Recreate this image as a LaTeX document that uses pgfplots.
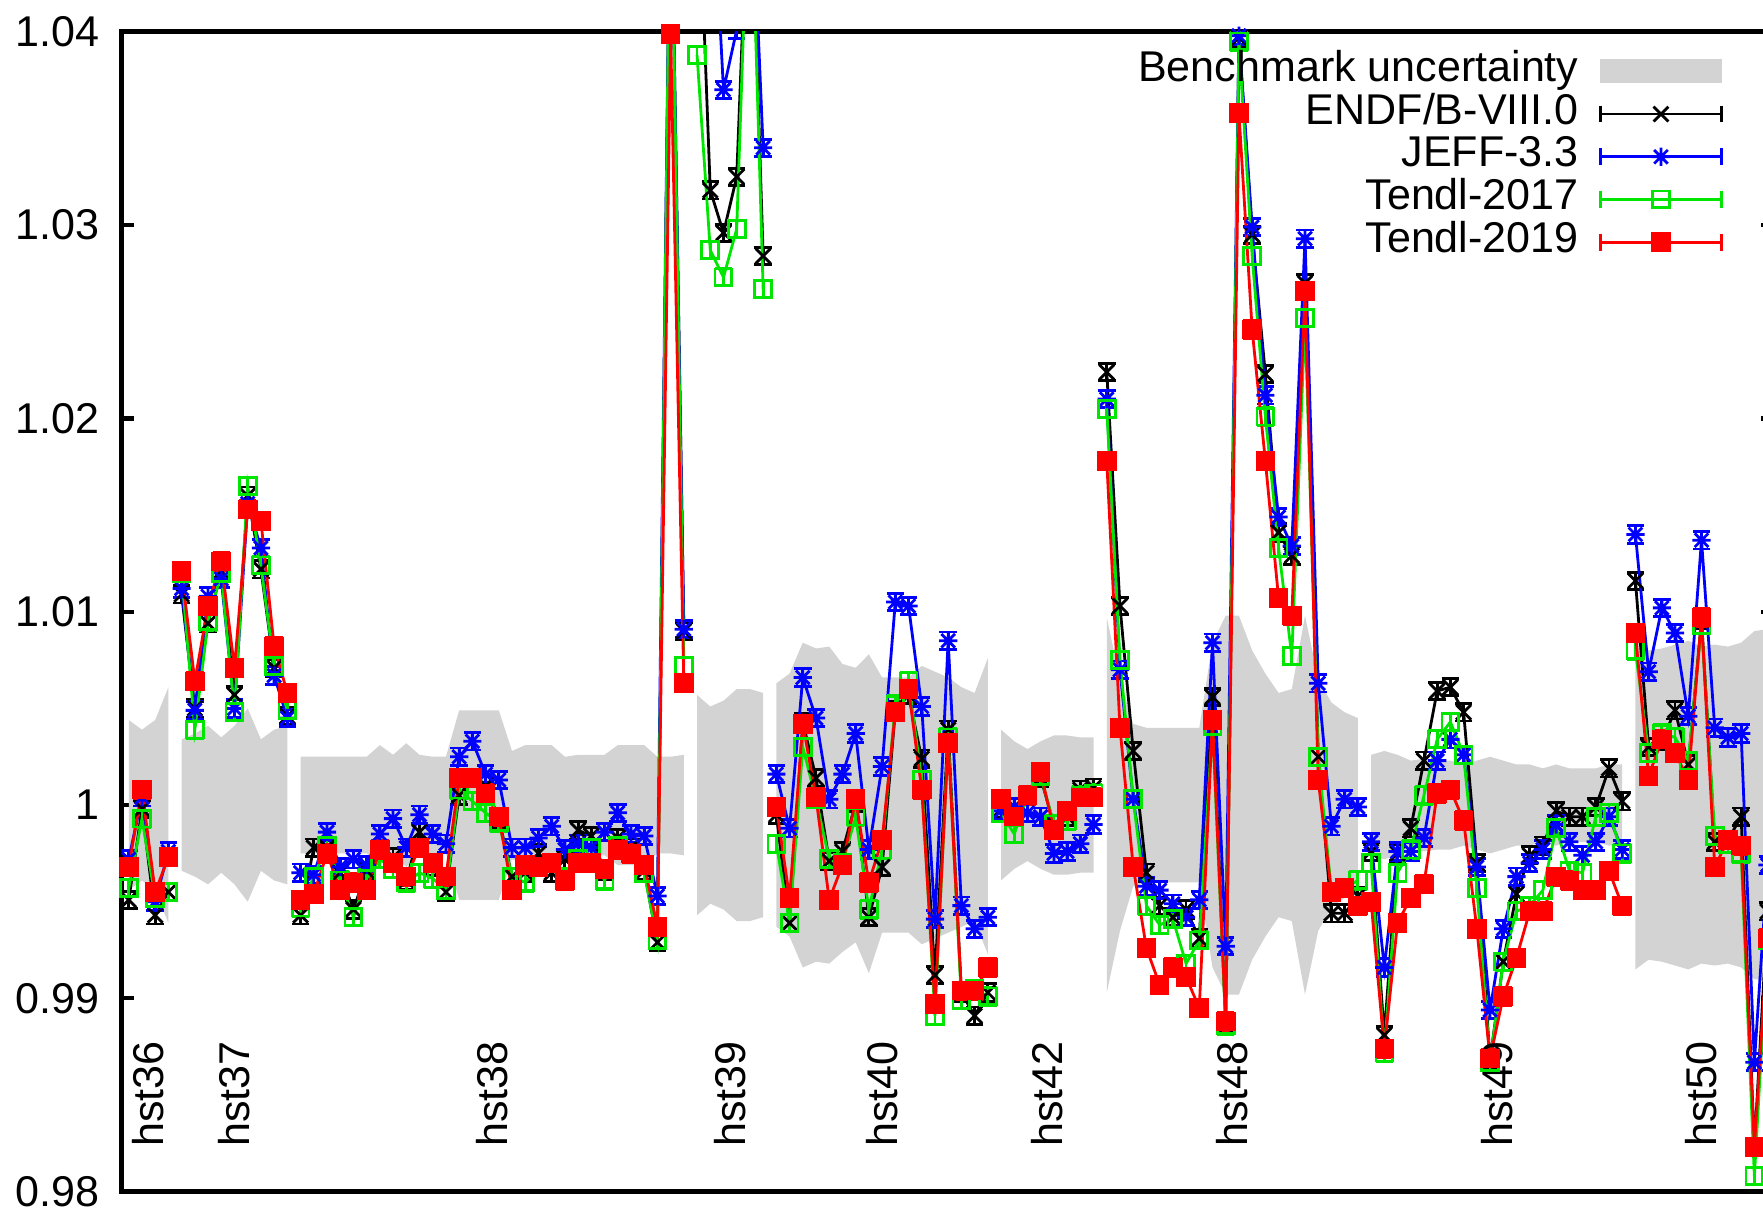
\documentclass[border=0pt]{standalone}
\usepackage{pgfplots}
\pgfplotsset{compat=1.18}
\usepackage{fontspec}
\setmainfont{Liberation Sans}
\definecolor{bandgray}{RGB}{211,211,211}
\definecolor{tgreen}{RGB}{0,230,0}
\definecolor{tblue}{RGB}{0,0,255}
\definecolor{tred}{RGB}{255,0,0}
\pgfdeclareplotmark{gpstar}{%
  \pgfpathmoveto{\pgfpoint{-\pgfplotmarksize}{0pt}}%
  \pgfpathlineto{\pgfpoint{\pgfplotmarksize}{0pt}}%
  \pgfpathmoveto{\pgfpoint{0pt}{-\pgfplotmarksize}}%
  \pgfpathlineto{\pgfpoint{0pt}{\pgfplotmarksize}}%
  \pgfpathmoveto{\pgfpoint{-0.75\pgfplotmarksize}{-0.75\pgfplotmarksize}}%
  \pgfpathlineto{\pgfpoint{0.75\pgfplotmarksize}{0.75\pgfplotmarksize}}%
  \pgfpathmoveto{\pgfpoint{-0.75\pgfplotmarksize}{0.75\pgfplotmarksize}}%
  \pgfpathlineto{\pgfpoint{0.75\pgfplotmarksize}{-0.75\pgfplotmarksize}}%
  \pgfusepathqstroke}
\pgfplotsset{
  errleg/.style={legend image code/.code={%
    \draw[mark repeat=2,mark phase=2,##1] plot coordinates {(0pt,0pt) (17.35pt,0pt) (34.7pt,0pt)};
    \draw[##1,mark=none] (0pt,-2.4pt) -- (0pt,2.4pt) (34.7pt,-2.4pt) -- (34.7pt,2.4pt);}},
  ser/.style={line width=0.8pt, mark options={solid,line width=0.8pt}, errleg,
    error bars/y dir=both, error bars/y fixed=0.00045,
    error bars/error bar style={line width=0.8pt},
    error bars/error mark=|,
    error bars/error mark options={line width=0.8pt, mark size=2.5pt}},
  bandleg/.style={legend image code/.code={\fill[bandgray] (0pt,-3.4pt) rectangle (34.7pt,3.4pt);}},
}
\newcommand{\lbl}{\fontsize{12.3}{14}\selectfont}
\begin{document}
\begin{tikzpicture}
\begin{axis}[
  set layers,
  at={(0,0)}, anchor=south west,
  scale only axis, width=472.2pt, height=331.4pt,
  xmin=-0.55, xmax=124.5, ymin=0.98, ymax=1.04,
  xtick=\empty,
  ytick={0.98,0.99,1,1.01,1.02,1.03,1.04},
  tick align=inside, major tick length=3.7pt,
  axis line style={line width=1.4pt},
  every tick/.style={black, line width=1.2pt},
  yticklabel style={font=\lbl, xshift=-2.8pt},
  /pgf/number format/assume math mode=true,
  unbounded coords=jump,
  legend style={draw=none, fill=none, at={(0.9695,1)}, anchor=north east, yshift=-5.0pt,
    font=\lbl, column sep=5.8pt, row sep=0pt, inner sep=0pt,
    nodes={inner sep=0pt, text height=9pt, text depth=3.2pt}},
  legend cell align=right, legend plot pos=right,
]
% benchmark uncertainty bands
\addplot[fill=bandgray, draw=none, bandleg] coordinates {(0,1.0044)(1,1.0039)(2,1.0044)(3,1.0061)(3,0.9939)(2,0.9956)(1,0.9961)(0,0.9956)};
\addlegendentry{Benchmark uncertainty}
\addplot[fill=bandgray, draw=none, forget plot] coordinates {(4,1.0034)(5,1.0037)(6,1.0041)(7,1.0035)(8,1.0041)(9,1.0050)(10,1.0034)(11,1.0039)(12,1.0041)(12,0.9959)(11,0.9961)(10,0.9966)(9,0.9950)(8,0.9959)(7,0.9965)(6,0.9959)(5,0.9963)(4,0.9966)};
\addplot[fill=bandgray, draw=none, forget plot] coordinates {(13,1.0025)(14,1.0025)(15,1.0025)(16,1.0025)(17,1.0025)(18,1.0025)(19,1.0031)(20,1.0026)(21,1.0032)(22,1.0026)(23,1.0025)(24,1.0025)(25,1.0049)(26,1.0049)(27,1.0049)(28,1.0049)(29,1.0028)(30,1.0031)(31,1.0031)(32,1.0031)(33,1.0025)(34,1.0026)(35,1.0026)(36,1.0026)(37,1.0031)(38,1.0031)(39,1.0031)(40,1.0025)(41,1.0025)(42,1.0026)(42,0.9974)(41,0.9975)(40,0.9975)(39,0.9969)(38,0.9969)(37,0.9969)(36,0.9974)(35,0.9974)(34,0.9974)(33,0.9975)(32,0.9969)(31,0.9969)(30,0.9969)(29,0.9972)(28,0.9951)(27,0.9951)(26,0.9951)(25,0.9951)(24,0.9975)(23,0.9975)(22,0.9974)(21,0.9968)(20,0.9974)(19,0.9969)(18,0.9975)(17,0.9975)(16,0.9975)(15,0.9975)(14,0.9975)(13,0.9975)};
\addplot[fill=bandgray, draw=none, forget plot] coordinates {(43,1.0057)(44,1.0051)(45,1.0054)(46,1.0060)(47,1.0060)(48,1.0058)(48,0.9942)(47,0.9940)(46,0.9940)(45,0.9946)(44,0.9949)(43,0.9943)};
\addplot[fill=bandgray, draw=none, forget plot] coordinates {(49,1.0063)(50,1.0068)(51,1.0084)(52,1.0081)(53,1.0082)(54,1.0073)(55,1.0071)(56,1.0078)(57,1.0066)(58,1.0066)(59,1.0066)(60,1.0072)(61,1.0069)(62,1.0066)(63,1.0061)(64,1.0058)(65,1.0076)(65,0.9923)(64,0.9940)(63,0.9937)(62,0.9934)(61,0.9931)(60,0.9928)(59,0.9934)(58,0.9934)(57,0.9934)(56,0.9913)(55,0.9929)(54,0.9924)(53,0.9918)(52,0.9919)(51,0.9916)(50,0.9932)(49,0.9937)};
\addplot[fill=bandgray, draw=none, forget plot] coordinates {(66,1.0039)(67,1.0033)(68,1.0029)(69,1.0033)(70,1.0036)(71,1.0036)(72,1.0035)(73,1.0035)(73,0.9965)(72,0.9965)(71,0.9964)(70,0.9964)(69,0.9967)(68,0.9971)(67,0.9967)(66,0.9961)};
\addplot[fill=bandgray, draw=none, forget plot] coordinates {(74,1.0097)(75,1.0065)(76,1.0042)(77,1.0040)(78,1.0040)(79,1.0040)(80,1.0040)(81,1.0040)(82,1.0084)(83,1.0098)(84,1.0098)(85,1.0080)(86,1.0068)(87,1.0058)(88,1.0060)(89,1.0098)(90,1.0065)(91,1.0053)(92,1.0048)(93,1.0045)(93,0.9955)(92,0.9952)(91,0.9947)(90,0.9935)(89,0.9902)(88,0.9940)(87,0.9942)(86,0.9932)(85,0.9920)(84,0.9902)(83,0.9902)(82,0.9916)(81,0.9960)(80,0.9960)(79,0.9960)(78,0.9960)(77,0.9960)(76,0.9958)(75,0.9935)(74,0.9903)};
\addplot[fill=bandgray, draw=none, forget plot] coordinates {(94,1.0026)(95,1.0028)(96,1.0026)(97,1.0023)(98,1.0024)(99,1.0023)(100,1.0023)(101,1.0021)(102,1.0023)(103,1.0025)(104,1.0023)(105,1.0021)(106,1.0021)(107,1.0019)(108,1.0021)(109,1.0019)(110,1.0019)(111,1.0019)(112,1.0021)(113,1.0021)(113,0.9979)(112,0.9979)(111,0.9981)(110,0.9981)(109,0.9981)(108,0.9979)(107,0.9981)(106,0.9979)(105,0.9979)(104,0.9977)(103,0.9975)(102,0.9977)(101,0.9979)(100,0.9977)(99,0.9977)(98,0.9976)(97,0.9977)(96,0.9974)(95,0.9972)(94,0.9974)};
\addplot[fill=bandgray, draw=none, forget plot] coordinates {(114,1.0085)(115,1.0080)(116,1.0081)(117,1.0083)(118,1.0085)(119,1.0082)(120,1.0083)(121,1.0082)(122,1.0084)(123,1.0090)(124,1.0091)(124,0.9909)(123,0.9910)(122,0.9916)(121,0.9918)(120,0.9917)(119,0.9918)(118,0.9915)(117,0.9917)(116,0.9919)(115,0.9920)(114,0.9915)};
% ENDF/B-VIII.0
\addplot[ser, black, mark=x, mark size=3.0pt] coordinates {
(0,0.9951)(1,0.9998)(2,0.9943)(3,0.9955)(3.5,nan)
(4,1.0109)(5,1.0050)(6,1.0094)(7,1.0121)(8,1.0057)(9,1.0160)(10,1.0122)(11,1.0071)(12,1.0046)(12.5,nan)
(13,0.9943)(14,0.9978)(15,0.9978)(16,0.9965)(17,0.9946)(18,0.9966)(19,0.9977)(20,0.9973)(21,0.9961)(22,0.9986)(23,0.9968)(24,0.9955)(25,1.0005)(26,1.0014)(27,1.0010)(28,0.9993)(29,0.9963)(30,0.9965)(31,0.9975)(32,0.9965)(33,0.9972)(34,0.9987)(35,0.9984)(36,0.9966)(37,0.9983)(38,0.9978)(39,0.9966)(40,0.9929)(41,1.05)(42,1.0090)(42.5,nan)
(43,1.05)(44,1.0318)(45,1.0296)(46,1.0325)(47,1.05)(48,1.0284)(48.5,nan)
(49,0.9995)(50,0.9939)(51,1.0043)(52,1.0014)(53,0.9971)(54,0.9976)(55,1.0001)(56,0.9942)(57,0.9968)(58,1.0049)(59,1.0057)(60,1.0024)(61,0.9912)(62,1.0039)(63,0.9903)(64,0.9891)(65,0.9903)(65.5,nan)
(66,0.9998)(67,0.9999)(68,1.0005)(69,1.0014)(70,0.9990)(71,0.9994)(72,1.0008)(73,1.0009)(73.5,nan)
(74,1.0224)(75,1.0103)(76,1.0028)(77,0.9965)(78,0.9948)(79,0.9942)(80,0.9946)(81,0.9931)(82,1.0056)(83,0.9886)(84,1.0397)(85,1.0295)(86,1.0223)(87,1.0141)(88,1.0129)(89,1.0270)(90,1.0025)(91,0.9944)(92,0.9944)(93,0.9953)(93.5,nan)
(94,0.9976)(95,0.9881)(96,0.9975)(97,0.9988)(98,1.0023)(99,1.0059)(100,1.0061)(101,1.0048)(102,0.9970)(103,0.9868)(104,0.9919)(105,0.9954)(106,0.9974)(107,0.9979)(108,0.9997)(109,0.9994)(110,0.9994)(111,0.9999)(112,1.0019)(113,1.0002)(113.5,nan)
(114,1.0116)(115,1.0030)(116,1.0033)(117,1.0049)(118,1.0021)(119,1.0096)(120,0.9981)(121,0.9982)(122,0.9994)(123,0.9823)(124,0.9945)
};
\addlegendentry{ENDF/B-VIII.0}
% JEFF-3.3
\addplot[ser, tblue, mark=gpstar, mark size=2.6pt] coordinates {
(0,0.9972)(1,1.0004)(2,0.9950)(3,0.9976)(3.5,nan)
(4,1.0112)(5,1.0049)(6,1.0108)(7,1.0117)(8,1.0050)(9,1.0156)(10,1.0133)(11,1.0067)(12,1.0045)(12.5,nan)
(13,0.9965)(14,0.9964)(15,0.9986)(16,0.9968)(17,0.9972)(18,0.9969)(19,0.9985)(20,0.9993)(21,0.9978)(22,0.9995)(23,0.9985)(24,0.9980)(25,1.0025)(26,1.0033)(27,1.0016)(28,1.0013)(29,0.9978)(30,0.9978)(31,0.9983)(32,0.9989)(33,0.9977)(34,0.9980)(35,0.9978)(36,0.9986)(37,0.9996)(38,0.9985)(39,0.9984)(40,0.9953)(41,1.05)(42,1.0091)(42.5,nan)
(43,1.05)(44,1.05)(45,1.0370)(46,1.0401)(47,1.05)(48,1.0340)(48.5,nan)
(49,1.0016)(50,0.9988)(51,1.0066)(52,1.0045)(53,1.0003)(54,1.0016)(55,1.0037)(56,0.9977)(57,1.0020)(58,1.0105)(59,1.0103)(60,1.0051)(61,0.9941)(62,1.0085)(63,0.9948)(64,0.9936)(65,0.9942)(65.5,nan)
(66,0.9997)(67,0.9999)(68,0.9996)(69,0.9994)(70,0.9975)(71,0.9976)(72,0.9980)(73,0.9990)(73.5,nan)
(74,1.0210)(75,1.0070)(76,1.0003)(77,0.9958)(78,0.9956)(79,0.9949)(80,0.9942)(81,0.9951)(82,1.0084)(83,0.9927)(84,1.0398)(85,1.0299)(86,1.0212)(87,1.0149)(88,1.0134)(89,1.0293)(90,1.0063)(91,0.9989)(92,1.0003)(93,0.9999)(93.5,nan)
(94,0.9981)(95,0.9916)(96,0.9976)(97,0.9976)(98,0.9983)(99,1.0023)(100,1.0034)(101,1.0026)(102,0.9968)(103,0.9894)(104,0.9936)(105,0.9963)(106,0.9970)(107,0.9977)(108,0.9990)(109,0.9981)(110,0.9974)(111,0.9981)(112,0.9994)(113,0.9977)(113.5,nan)
(114,1.0140)(115,1.0069)(116,1.0102)(117,1.0089)(118,1.0046)(119,1.0137)(120,1.0040)(121,1.0035)(122,1.0037)(123,0.9867)(124,0.9969)
};
\addlegendentry{JEFF-3.3}
% Tendl-2017
\addplot[ser, tgreen, mark=square, mark size=2.4pt] coordinates {
(0,0.9957)(1,0.9993)(2,0.9952)(3,0.9955)(3.5,nan)
(4,1.0120)(5,1.0039)(6,1.0095)(7,1.0120)(8,1.0048)(9,1.0165)(10,1.0124)(11,1.0072)(12,1.0049)(12.5,nan)
(13,0.9947)(14,0.9963)(15,0.9979)(16,0.9961)(17,0.9942)(18,0.9962)(19,0.9972)(20,0.9967)(21,0.9960)(22,0.9965)(23,0.9962)(24,0.9956)(25,1.0008)(26,1.0002)(27,0.9996)(28,0.9991)(29,0.9963)(30,0.9960)(31,0.9968)(32,0.9970)(33,0.9963)(34,0.9972)(35,0.9978)(36,0.9961)(37,0.9979)(38,0.9975)(39,0.9965)(40,0.9930)(41,1.05)(42,1.0072)(42.5,nan)
(43,1.0388)(44,1.0287)(45,1.0273)(46,1.0298)(47,1.05)(48,1.0267)(48.5,nan)
(49,0.9980)(50,0.9939)(51,1.0030)(52,1.0003)(53,0.9972)(54,0.9970)(55,0.9994)(56,0.9946)(57,0.9977)(58,1.0052)(59,1.0064)(60,1.0013)(61,0.9891)(62,1.0035)(63,0.9899)(64,0.9905)(65,0.9901)(65.5,nan)
(66,0.9996)(67,0.9985)(68,1.0005)(69,1.0015)(70,0.9990)(71,0.9992)(72,1.0005)(73,1.0006)(73.5,nan)
(74,1.0205)(75,1.0075)(76,1.0003)(77,0.9948)(78,0.9938)(79,0.9941)(80,0.9918)(81,0.9930)(82,1.0041)(83,0.9886)(84,1.0395)(85,1.0284)(86,1.0201)(87,1.0133)(88,1.0077)(89,1.0252)(90,1.0025)(91,0.9955)(92,0.9957)(93,0.9961)(93.5,nan)
(94,0.9970)(95,0.9872)(96,0.9965)(97,0.9977)(98,1.0005)(99,1.0034)(100,1.0043)(101,1.0026)(102,0.9957)(103,0.9867)(104,0.9919)(105,0.9945)(106,0.9948)(107,0.9956)(108,0.9988)(109,0.9966)(110,0.9965)(111,0.9994)(112,0.9996)(113,0.9975)(113.5,nan)
(114,1.0080)(115,1.0027)(116,1.0037)(117,1.0035)(118,1.0023)(119,1.0093)(120,0.9984)(121,0.9980)(122,0.9975)(123,0.9808)(124,0.9930)
};
\addlegendentry{Tendl-2017}
% Tendl-2019
\addplot[ser, tred, mark=square*, mark size=2.4pt] coordinates {
(0,0.9968)(1,1.0008)(2,0.9955)(3,0.9973)(3.5,nan)
(4,1.0121)(5,1.0064)(6,1.0103)(7,1.0126)(8,1.0071)(9,1.0153)(10,1.0147)(11,1.0082)(12,1.0058)(12.5,nan)
(13,0.9951)(14,0.9954)(15,0.9975)(16,0.9956)(17,0.9960)(18,0.9956)(19,0.9977)(20,0.9970)(21,0.9963)(22,0.9978)(23,0.9970)(24,0.9963)(25,1.0014)(26,1.0014)(27,1.0006)(28,0.9994)(29,0.9956)(30,0.9969)(31,0.9968)(32,0.9970)(33,0.9961)(34,0.9970)(35,0.9970)(36,0.9967)(37,0.9977)(38,0.9975)(39,0.9969)(40,0.9937)(41,1.0399)(42,1.0063)(42.5,nan)
(43,1.06)(44,1.06)(45,1.06)(46,1.06)(47,1.06)(48,1.06)(48.5,nan)
(49,0.9999)(50,0.9952)(51,1.0042)(52,1.0004)(53,0.9951)(54,0.9969)(55,1.0003)(56,0.9960)(57,0.9982)(58,1.0048)(59,1.0060)(60,1.0008)(61,0.9897)(62,1.0032)(63,0.9904)(64,0.9904)(65,0.9916)(65.5,nan)
(66,1.0003)(67,0.9994)(68,1.0005)(69,1.0017)(70,0.9987)(71,0.9997)(72,1.0004)(73,1.0004)(73.5,nan)
(74,1.0178)(75,1.0040)(76,0.9968)(77,0.9926)(78,0.9907)(79,0.9916)(80,0.9911)(81,0.9895)(82,1.0044)(83,0.9888)(84,1.0358)(85,1.0246)(86,1.0178)(87,1.0107)(88,1.0098)(89,1.0266)(90,1.0013)(91,0.9955)(92,0.9957)(93,0.9948)(93.5,nan)
(94,0.9950)(95,0.9874)(96,0.9939)(97,0.9952)(98,0.9959)(99,1.0006)(100,1.0008)(101,0.9992)(102,0.9936)(103,0.9869)(104,0.9901)(105,0.9921)(106,0.9945)(107,0.9945)(108,0.9963)(109,0.9961)(110,0.9956)(111,0.9956)(112,0.9966)(113,0.9948)(113.5,nan)
(114,1.0089)(115,1.0015)(116,1.0034)(117,1.0027)(118,1.0013)(119,1.0097)(120,0.9968)(121,0.9982)(122,0.9979)(123,0.9823)(124,0.9931)
};
\addlegendentry{Tendl-2019}
% group labels
\node[on layer=axis background, rotate=90, anchor=west, inner sep=0pt, font=\lbl] at (axis cs:1.5,0.9823) {hst36};
\node[on layer=axis background, rotate=90, anchor=west, inner sep=0pt, font=\lbl] at (axis cs:8,0.9823) {hst37};
\node[on layer=axis background, rotate=90, anchor=west, inner sep=0pt, font=\lbl] at (axis cs:27.5,0.9823) {hst38};
\node[on layer=axis background, rotate=90, anchor=west, inner sep=0pt, font=\lbl] at (axis cs:45.5,0.9823) {hst39};
\node[on layer=axis background, rotate=90, anchor=west, inner sep=0pt, font=\lbl] at (axis cs:57,0.9823) {hst40};
\node[on layer=axis background, rotate=90, anchor=west, inner sep=0pt, font=\lbl] at (axis cs:69.5,0.9823) {hst42};
\node[on layer=axis background, rotate=90, anchor=west, inner sep=0pt, font=\lbl] at (axis cs:83.5,0.9823) {hst48};
\node[on layer=axis background, rotate=90, anchor=west, inner sep=0pt, font=\lbl] at (axis cs:103.5,0.9823) {hst49};
\node[on layer=axis background, rotate=90, anchor=west, inner sep=0pt, font=\lbl] at (axis cs:119,0.9823) {hst50};
\end{axis}
\pgfresetboundingbox
\path[use as bounding box] (-34.71pt,-6.69pt) rectangle (469.0pt,340.49pt);
\end{tikzpicture}
\end{document}
